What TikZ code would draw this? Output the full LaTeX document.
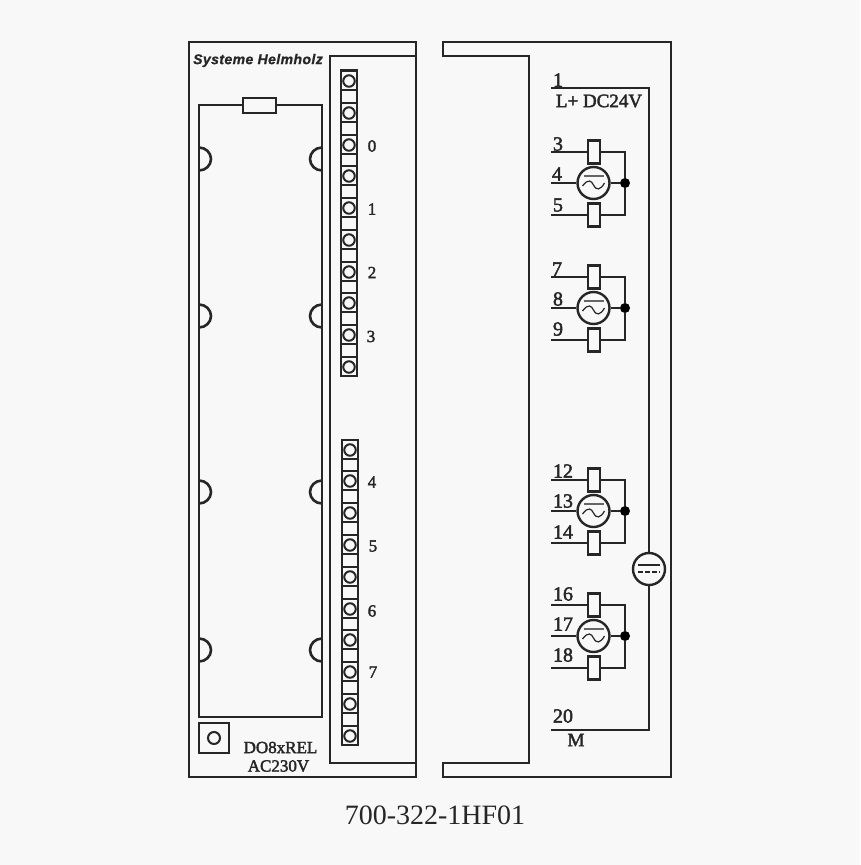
\documentclass[tikz,border=0pt]{standalone}
\usepackage{fontspec}
\setmainfont{Liberation Serif}
\newfontfamily\medfont[FakeBold=2.2]{Liberation Serif}
\newfontfamily\brandfont[LetterSpace=3,FakeBold=1]{Liberation Sans}
\usepackage{tikz}
\definecolor{paper}{HTML}{F8F8F8}
\definecolor{ink}{HTML}{262626}
\tikzset{
  wire/.style={draw=ink,line width=2.6pt},
  thin wire/.style={draw=ink,line width=2.2pt},
  pin/.style={circle,draw=ink,line width=2pt,fill=paper,inner sep=0pt,minimum size=11.5pt},
  cell/.style={rectangle,draw=ink,line width=2pt,fill=paper,inner sep=0pt,minimum width=16pt,minimum height=19pt},
  coil/.style={rectangle,draw=ink,line width=2.4pt,fill=paper,inner sep=0pt,minimum width=12pt,minimum height=23pt},
  lamp/.style={circle,draw=ink,line width=2.4pt,fill=paper,inner sep=0pt,minimum size=32pt},
  junction/.style={circle,fill=black,inner sep=0pt,minimum size=10pt},
  channel/.style={text=ink,font=\medfont\fontsize{17}{17}\selectfont},
  terminal/.style={text=ink,font=\medfont\fontsize{20}{20}\selectfont},
  plate/.style={text=ink,font=\medfont\fontsize{17}{17}\selectfont}
}
\begin{document}
\begin{tikzpicture}[x=1pt,y=-1pt]
\useasboundingbox[fill=paper] (0,0) rectangle (860,865);

% housing
\draw[wire] (189,42) rectangle (416,777);
\draw[wire] (416,56) -- (330,56) -- (330,763) -- (416,763);
\draw[wire] (443,42) -- (671,42) -- (671,777) -- (443,777) -- (443,763) -- (529,763) -- (529,56) -- (443,56) -- cycle;
\node[text=ink,font=\brandfont\bfseries\itshape\fontsize{14}{14}\selectfont] (brand) at (258,60.5) {Systeme Helmholz};

% label carrier
\draw[wire] (199,105) rectangle (322,717);
\node[rectangle,wire,fill=paper,minimum width=33pt,minimum height=15pt,inner sep=0pt] (fuse) at (259.5,105.5) {};
\foreach \y in {159,316,492,650} {
  \draw[wire] (199,\y-11.5) arc (-90:90:12 and 11.5);
  \draw[wire] (322,\y-11.5) arc (270:90:12 and 11.5);
}

% status strips
\draw[thin wire] (341,70) rectangle (357,376);
\foreach \y [count=\i] in {81,113,145,176,208,240,272,303,335,367} {
  \node[cell] (a\i) at (349,\y-1) {};
  \node[pin] (ap\i) at (349,\y) {};
}
\draw[thin wire] (342,441) rectangle (358,745);
\foreach \y [count=\i] in {450,481,513,545,577,609,640,672,704,736} {
  \node[cell] (b\i) at (350,\y-1) {};
  \node[pin] (bp\i) at (350,\y) {};
}
\node[channel] (ch0) at (372,146) {0};
\node[channel] (ch1) at (372,209) {1};
\node[channel] (ch2) at (372,272.5) {2};
\node[channel] (ch3) at (371,336.5) {3};
\node[channel] (ch4) at (372,482) {4};
\node[channel] (ch5) at (373,546) {5};
\node[channel] (ch6) at (372,611) {6};
\node[channel] (ch7) at (373,672) {7};

% reset button
\node[rectangle,thin wire,minimum size=30pt,inner sep=0pt] (reset) at (214,738) {};
\node[pin,minimum size=12pt,fill=none] (knob) at (214,738) {};
\node[plate] (type) at (280.5,747.5) {DO8xREL};
\node[plate] (volt) at (278.5,766) {AC230V};
\node[text=ink,font=\fontsize{28}{28}\selectfont] (part) at (435,815.5) {700-322-1HF01};

% supply rail
\coordinate (lp) at (551,88);
\coordinate (mp) at (551,730);
\node[lamp] (earth) at (649,569) {};
\draw[wire] (lp) -| (earth);
\draw[wire] (mp) -| (earth);
\draw[draw=ink,line width=1.8pt] ([shift={(-11,-4)}]earth.center) -- ([shift={(11,-4)}]earth.center);
\draw[draw=ink,line width=1.8pt,dash pattern=on 5pt off 2pt] ([shift={(-11,3)}]earth.center) -- ([shift={(11,3)}]earth.center);
\node[terminal] (t1) at (558,80) {1};
\node[plate,font=\medfont\fontsize{19}{19}\selectfont] (tl) at (599,101) {L+ DC24V};
\node[terminal] (t20) at (563,716) {20};
\node[plate,font=\medfont\fontsize{19}{19}\selectfont] (tm) at (576,740) {M};

% relay outputs
\foreach \y/\m in {183/a,308/b,511/c,636/d} {
  \node[lamp] (\m lamp) at (593.5,\y) {};
  \node[junction] (\m dot) at (625,\y) {};
  \node[coil] (\m top) at (594,\y-31) {};
  \node[coil] (\m bot) at (594,\y+32) {};
  \coordinate (\m in1) at (551,\y-31);
  \coordinate (\m in2) at (551,\y);
  \coordinate (\m in3) at (551,\y+32);
  \draw[thin wire] (\m in1) -- (\m top);
  \draw[thin wire] (\m in2) -- (\m lamp);
  \draw[thin wire] (\m in3) -- (\m bot);
  \draw[thin wire] (\m top) -| (\m dot);
  \draw[thin wire] (\m bot) -| (\m dot);
  \draw[thin wire] (\m lamp) -- (\m dot);
  \draw[draw=gray!80!black,line width=1.5pt] ([shift={(-10,-7)}]\m lamp.center) -- ([shift={(10,-7)}]\m lamp.center);
  \draw[draw=ink,line width=1.2pt] ([shift={(-11,3)}]\m lamp.center) .. controls ([shift={(-5,-5)}]\m lamp.center) and ([shift={(-2,-2)}]\m lamp.center) .. ([shift={(0,2)}]\m lamp.center) .. controls ([shift={(3,8)}]\m lamp.center) and ([shift={(7,7)}]\m lamp.center) .. ([shift={(11,0)}]\m lamp.center);
}
\node[terminal] (t3) at (558,144) {3};
\node[terminal] (t4) at (557,174) {4};
\node[terminal] (t5) at (558,205) {5};
\node[terminal] (t7) at (557,269) {7};
\node[terminal] (t8) at (558,299) {8};
\node[terminal] (t9) at (558,329) {9};
\node[terminal] (t12) at (563,471) {12};
\node[terminal] (t13) at (563,501) {13};
\node[terminal] (t14) at (563,532) {14};
\node[terminal] (t16) at (563,594) {16};
\node[terminal] (t17) at (563,624) {17};
\node[terminal] (t18) at (563,655) {18};
\end{tikzpicture}
\end{document}
